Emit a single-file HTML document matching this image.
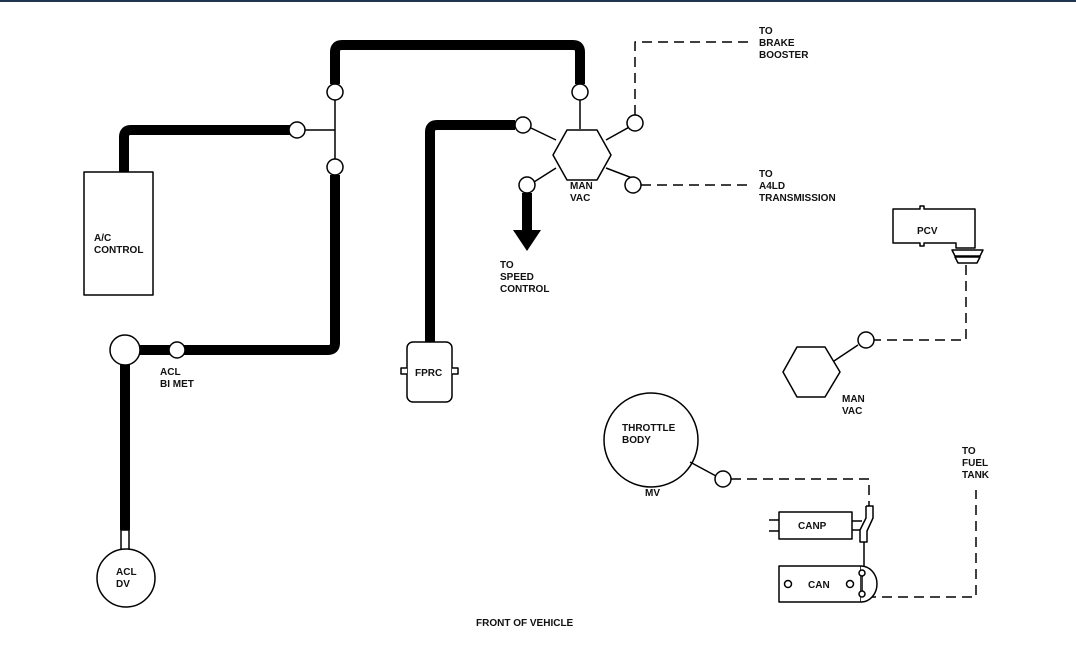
<!DOCTYPE html>
<html><head><style>
html,body{margin:0;padding:0;background:#fff;}
svg{display:block;}
text{font-family:"Liberation Sans",Arial,sans-serif;font-weight:bold;font-size:10px;fill:#111;}
</style></head><body>
<svg width="1076" height="649" viewBox="0 0 1076 649" xmlns="http://www.w3.org/2000/svg">
<rect x="0" y="0" width="1076" height="2" fill="#1f3550"/>
<g fill="none" stroke="#000" stroke-linejoin="round">
<path d="M124 172 V137 Q124 130 131 130 H290" stroke-width="10"/>
<path d="M335 84 V52 Q335 45 342 45 H573 Q580 45 580 52 V84" stroke-width="10"/>
<path d="M335 175 V343 Q335 350 328 350 H140" stroke-width="10"/>
<path d="M125 365 V530" stroke-width="10"/>
<path d="M430 342 V132 Q430 125 437 125 H515" stroke-width="10"/>
<path d="M527 193 V232" stroke-width="10"/>
<path d="M305 130 H335 M335 100 V159 M580 100 V129 M531 128 L556 140 M534 182 L556 168 M642 120 L606 140 M640 181 L606 168" stroke-width="1.5"/>
<g fill="#fff" stroke-width="1.5">
<circle cx="297" cy="130" r="8"/>
<circle cx="335" cy="92" r="8"/>
<circle cx="335" cy="167" r="8"/>
<circle cx="580" cy="92" r="8"/>
<circle cx="523" cy="125" r="8"/>
<circle cx="527" cy="185" r="8"/>
<circle cx="635" cy="123" r="8"/>
<circle cx="633" cy="185" r="8"/>
<circle cx="125" cy="350" r="15"/>
<circle cx="177" cy="350" r="8"/>
<rect x="121" y="530" width="8" height="20"/>
<circle cx="126" cy="578" r="29"/>
<rect x="84" y="172" width="69" height="123"/>
<path d="M553 155 L567 130 H597 L611 155 L597 180 H567 Z"/>
<rect x="407" y="342" width="45" height="60" rx="6"/>
<path d="M407 368 H401 V374 H407 M452 368 H458 V374 H452"/>
</g>
<polygon points="513,230 541,230 527,251" fill="#000" stroke="none"/>
<g stroke-width="1.5" stroke-dasharray="10,6">
<path d="M635 115 V42 H752"/>
<path d="M641 185 H752"/>
<path d="M966 265 V340 H874"/>
<path d="M731 479 H869 V508"/>
<path d="M866 597 H976 V490"/>
</g>
<g fill="#fff" stroke-width="1.5">
<path d="M893 209 H920 V206 H924 V209 H975 V248 H956 V243 H924 V246 H920 V243 H893 Z"/>
<path d="M952 250 H983 L980 256 H955 Z M955 257 H980 L977 263 H958 Z"/>
<circle cx="866" cy="340" r="8"/>
<path d="M783 372 L797 347 H825 L840 372 L825 397 H797 Z"/>
<path d="M834 361 L858 345"/>
<circle cx="651" cy="440" r="47"/>
<path d="M690 462 L716 476"/>
<circle cx="723" cy="479" r="8"/>
<rect x="779" y="512" width="73" height="27"/>
<path d="M769 520 H779 M769 531 H779 M852 521 H862 M852 530 H862"/>
<path d="M866 506 H873 V518 L867 531 V542 H860 V530 L866 518 V506"/>
<path d="M864 542 V566"/>
<rect x="779" y="566" width="82" height="36"/>
<path d="M861 566 A16 18 0 0 1 861 602"/>
<path d="M862 573 V594"/>
<circle cx="862" cy="573" r="3"/>
<circle cx="862" cy="594" r="3"/>
<circle cx="788" cy="584" r="3.5"/>
<circle cx="850" cy="584" r="3.5"/>
</g>
</g>
<text x="759" y="34">TO</text><text x="759" y="46">BRAKE</text><text x="759" y="58">BOOSTER</text>
<text x="759" y="177">TO</text><text x="759" y="189">A4LD</text><text x="759" y="201">TRANSMISSION</text>
<text x="570" y="189">MAN</text><text x="570" y="201">VAC</text>
<text x="500" y="268">TO</text><text x="500" y="280">SPEED</text><text x="500" y="292">CONTROL</text>
<text x="94" y="241">A/C</text><text x="94" y="253">CONTROL</text>
<text x="160" y="375">ACL</text><text x="160" y="387">BI MET</text>
<text x="415" y="376">FPRC</text>
<text x="116" y="575">ACL</text><text x="116" y="587">DV</text>
<text x="917" y="234">PCV</text>
<text x="842" y="402">MAN</text><text x="842" y="414">VAC</text>
<text x="622" y="431">THROTTLE</text><text x="622" y="443">BODY</text>
<text x="645" y="496">MV</text>
<text x="798" y="529">CANP</text>
<text x="808" y="588">CAN</text>
<text x="962" y="454">TO</text><text x="962" y="466">FUEL</text><text x="962" y="478">TANK</text>
<text x="476" y="626">FRONT OF VEHICLE</text>
</svg>
</body></html>
